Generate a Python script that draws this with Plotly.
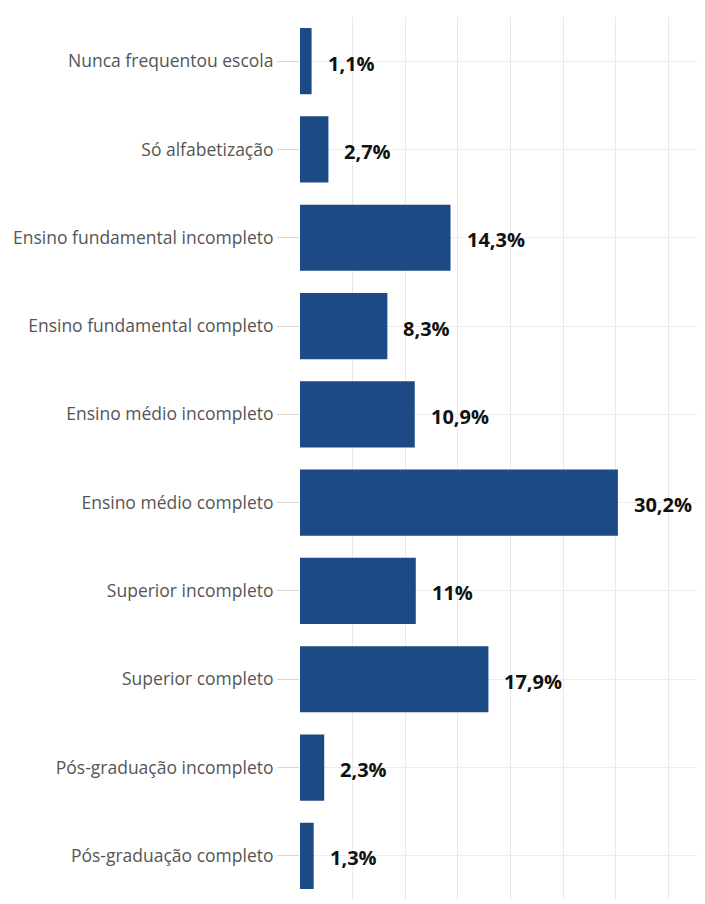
import plotly.graph_objects as go

categories = [
    "Nunca frequentou escola",
    "Só alfabetização",
    "Ensino fundamental incompleto",
    "Ensino fundamental completo",
    "Ensino médio incompleto",
    "Ensino médio completo",
    "Superior incompleto",
    "Superior completo",
    "Pós-graduação incompleto",
    "Pós-graduação completo",
]
values = [1.1, 2.7, 14.3, 8.3, 10.9, 30.2, 11.0, 17.9, 2.3, 1.3]
value_labels = ["1,1%", "2,7%", "14,3%", "8,3%", "10,9%", "30,2%", "11%", "17,9%", "2,3%", "1,3%"]

bar_color = "#1c4a85"

fig = go.Figure(
    go.Bar(
        x=values,
        y=categories,
        orientation="h",
        marker=dict(color=bar_color, line=dict(width=0)),
        hoverinfo="skip",
    )
)

for v, c, t in zip(values, categories, value_labels):
    fig.add_annotation(
        x=v, y=c, text=f"<b>{t}</b>", showarrow=False,
        xanchor="left", xshift=14, yshift=-2,
        font=dict(family="Open Sans", size=20, color="#111111"),
    )

fig.update_layout(
    width=705, height=904,
    margin=dict(l=292, r=13, t=9, b=12, autoexpand=False),
    paper_bgcolor="white", plot_bgcolor="white",
    bargap=0.25,
    showlegend=False,
    font=dict(family="Open Sans", color="#555555"),
)
fig.update_xaxes(
    range=[0, 38], dtick=5, showticklabels=False,
    showgrid=True, gridcolor="#e9e9e9", gridwidth=1,
    zeroline=False, showline=False, automargin=False,
)
fig.update_yaxes(
    categoryorder="array", categoryarray=categories, autorange="reversed",
    showgrid=True, gridcolor="#ededed", gridwidth=1,
    ticks="outside", ticklen=22, tickcolor="#d6d6d6", tickwidth=1,
    tickfont=dict(family="Open Sans", size=17.5, color="#555555"),
    ticklabelstandoff=0, automargin=False,
)

fig.write_html("out.html")
